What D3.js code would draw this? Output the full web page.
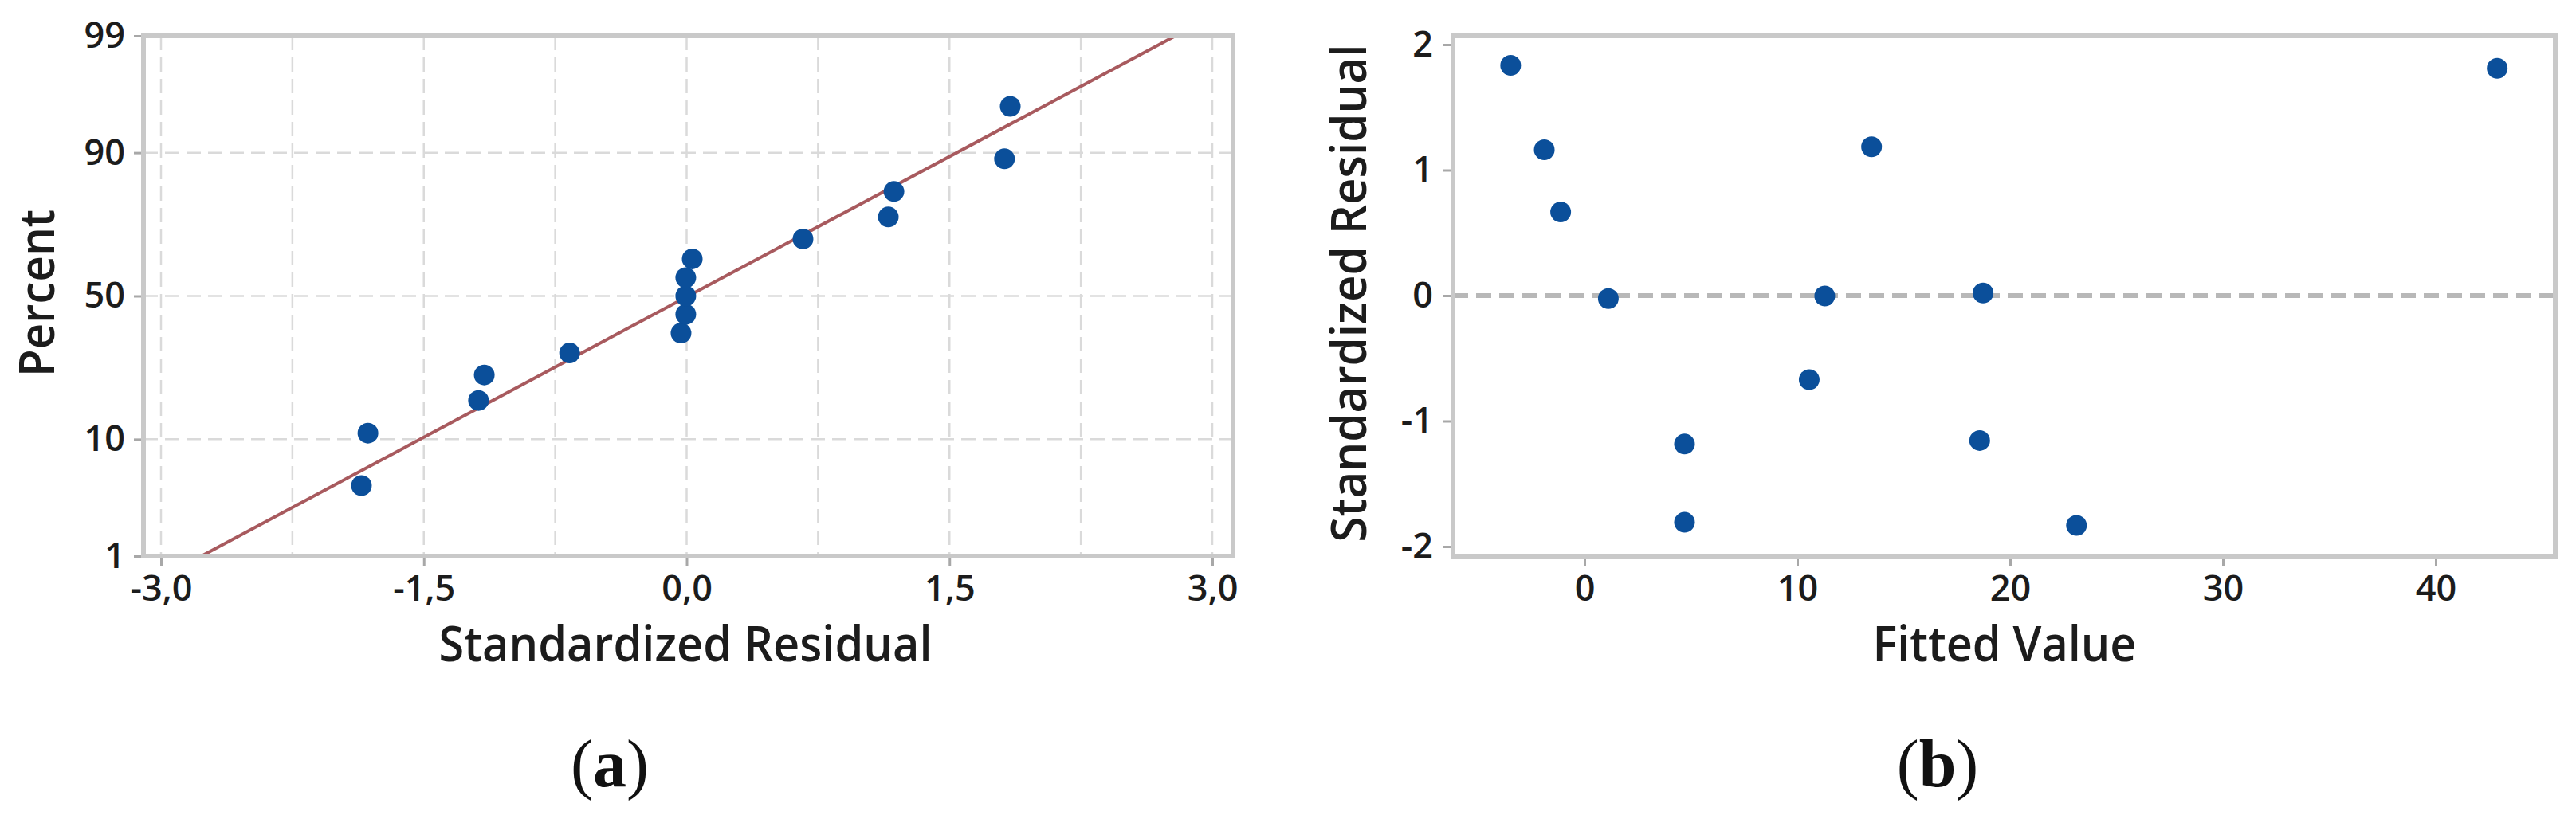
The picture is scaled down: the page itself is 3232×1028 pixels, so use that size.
<!DOCTYPE html>
<html>
<head>
<meta charset="utf-8">
<script src="https://cdn.jsdelivr.net/npm/d3@7"></script>
<style>
  body { margin: 0; background: #fff; }
  svg { display: block; }
</style>
</head>
<body>
<svg id="chart"></svg>
<script>
// panel (a): normal probability plot
const probResid = [-1.856, -1.819, -1.188, -1.155, -0.668, -0.032, -0.005, -0.005, -0.005, 0.032, 0.664, 1.151, 1.183, 1.814, 1.847];
const probPercent = [4.5, 11.0, 17.5, 24.0, 30.5, 37.0, 43.5, 50.0, 56.5, 63.0, 69.5, 76.0, 82.5, 89.0, 95.5];
const fitResid = [-2.77, 2.79];
const fitPercent = [1, 99];
const probXTicks = [-3, -1.5, 0, 1.5, 3];
const probXGrid = [-3, -2.25, -1.5, -0.75, 0, 0.75, 1.5, 2.25, 3];
const probYTicks = [1, 10, 50, 90, 99];
const probYGrid = [10, 50, 90];

// panel (b): residuals vs fits
const fitted = [-3.47, -1.89, -1.12, 1.12, 4.70, 4.70, 10.56, 11.29, 13.49, 18.73, 18.57, 23.12, 42.89];
const stdResid = [1.835, 1.162, 0.666, -0.024, -1.183, -1.807, -0.670, -0.003, 1.186, 0.021, -1.155, -1.832, 1.811];
const fitXTicks = [0, 10, 20, 30, 40];
const fitYTicks = [-2, -1, 0, 1, 2];

const W = 3232, H = 1028;
const FRAME = '#c9c9c9';
const GRID = '#dadada';
const DOT = '#0b4f9a';
const TEXT = '#1c1c1c';
const FONT = '"Open Sans", "Noto Sans", sans-serif';

// inverse normal cdf (Acklam)
function probit(p) {
    const a = [-3.969683028665376e+01, 2.209460984245205e+02, -2.759285104469687e+02, 1.383577518672690e+02, -3.066479806614716e+01, 2.506628277459239e+00];
    const b = [-5.447609879822406e+01, 1.615858368580409e+02, -1.556989798598866e+02, 6.680131188771972e+01, -1.328068155288572e+01];
    const c = [-7.784894002430293e-03, -3.223964580411365e-01, -2.400758277161838e+00, -2.549671500683589e+00, 4.374664141464968e+00, 2.938163982698783e+00];
    const d = [7.784695709041462e-03, 3.224671290700398e-01, 2.445134137142996e+00, 3.754408661907416e+00];
    const pl = 0.02425;
    if (p < pl) {
        const q = Math.sqrt(-2 * Math.log(p));
        return (((((c[0]*q+c[1])*q+c[2])*q+c[3])*q+c[4])*q+c[5]) / ((((d[0]*q+d[1])*q+d[2])*q+d[3])*q+1);
    }
    if (p > 1 - pl) {
        const q = Math.sqrt(-2 * Math.log(1 - p));
        return -(((((c[0]*q+c[1])*q+c[2])*q+c[3])*q+c[4])*q+c[5]) / ((((d[0]*q+d[1])*q+d[2])*q+d[3])*q+1);
    }
    const q = p - 0.5, r = q * q;
    return (((((a[0]*r+a[1])*r+a[2])*r+a[3])*r+a[4])*r+a[5])*q / (((((b[0]*r+b[1])*r+b[2])*r+b[3])*r+b[4])*r+1);
}

const commaFmt = d3.formatLocale({ decimal: ',', thousands: '.', grouping: [3], currency: ['', ''], minus: '-' }).format('.1f');

const svg = d3.select('#chart').attr('width', W).attr('height', H);

function styleAxis(g) {
    g.select('.domain').remove();
    g.selectAll('.tick line').attr('stroke', '#a8a8a8').attr('stroke-width', 3);
    g.selectAll('.tick text')
        .attr('fill', TEXT)
        .style('font-family', FONT)
        .style('font-weight', '600')
        .style('font-size', '45px');
}

function frame(box) {
    svg.append('rect')
        .attr('x', box.left).attr('y', box.top)
        .attr('width', box.right - box.left).attr('height', box.bottom - box.top)
        .attr('fill', 'none')
        .attr('stroke', FRAME)
        .attr('stroke-width', 6);
}

function title(text, x, y, len, rotate) {
    svg.append('text')
        .attr('transform', `translate(${x},${y})` + (rotate ? ' rotate(-90)' : ''))
        .attr('text-anchor', 'middle')
        .attr('textLength', len)
        .attr('lengthAdjust', 'spacingAndGlyphs')
        .attr('fill', TEXT)
        .style('font-family', FONT)
        .style('font-weight', '600')
        .style('font-size', '62px')
        .text(text);
}

// ---------- panel (a) ----------
const boxA = { left: 180, right: 1547, top: 45, bottom: 698 };
const xA = d3.scaleLinear().domain([-3, 3]).range([202, 1521]);
const zA = d3.scaleLinear().domain([probit(0.01), probit(0.99)]).range([boxA.bottom, boxA.top]);
const yA = p => zA(probit(p / 100));

const gridA = svg.append('g');
gridA.selectAll('.vgrid')
    .data(probXGrid)
    .enter()
    .append('line')
    .attr('x1', d => xA(d)).attr('x2', d => xA(d))
    .attr('y1', boxA.top).attr('y2', boxA.bottom)
    .attr('stroke', GRID).attr('stroke-width', 2.5)
    .attr('stroke-dasharray', '18,9');
gridA.selectAll('.hgrid')
    .data(probYGrid)
    .enter()
    .append('line')
    .attr('x1', boxA.left).attr('x2', boxA.right)
    .attr('y1', d => yA(d)).attr('y2', d => yA(d))
    .attr('stroke', GRID).attr('stroke-width', 2.5)
    .attr('stroke-dasharray', '18,9');

svg.append('g')
    .attr('transform', `translate(0,${boxA.bottom})`)
    .call(d3.axisBottom(xA).tickValues(probXTicks).tickSize(12).tickPadding(12).tickFormat(commaFmt))
    .call(styleAxis);

svg.append('g')
    .attr('transform', `translate(${boxA.left},0)`)
    .call(d3.axisLeft(zA).tickValues(probYTicks.map(p => probit(p / 100))).tickSize(12).tickPadding(11)
        .tickFormat((d, i) => probYTicks[i]))
    .call(styleAxis);

svg.append('path')
    .datum(fitResid.map((r, i) => [r, fitPercent[i]]))
    .attr('fill', 'none')
    .attr('stroke', '#a85a5e')
    .attr('stroke-width', 4)
    .attr('d', d3.line().x(d => xA(d[0])).y(d => yA(d[1])));

svg.append('g').selectAll('circle')
    .data(probResid.map((r, i) => [r, probPercent[i]]))
    .enter()
    .append('circle')
    .attr('cx', d => xA(d[0]))
    .attr('cy', d => yA(d[1]))
    .attr('r', 13)
    .attr('fill', DOT);

frame(boxA);

title('Standardized Residual', 860, 830, 619, false);
title('Percent', 68, 368, 210, true);

// ---------- panel (b) ----------
const boxB = { left: 1823, right: 3206, top: 45, bottom: 699 };
const xB = d3.scaleLinear().domain([0, 40]).range([1988, 3056]);
const yB = d3.scaleLinear().domain([-2, 2]).range([686, 56]);

svg.append('line')
    .attr('x1', boxB.left).attr('x2', boxB.right)
    .attr('y1', yB(0)).attr('y2', yB(0))
    .attr('stroke', '#b8b8b8').attr('stroke-width', 6)
    .attr('stroke-dasharray', '19,10');

svg.append('g')
    .attr('transform', `translate(0,${boxB.bottom})`)
    .call(d3.axisBottom(xB).tickValues(fitXTicks).tickSize(12).tickPadding(11).tickFormat(d3.format('d')))
    .call(styleAxis);

svg.append('g')
    .attr('transform', `translate(${boxB.left},0)`)
    .call(d3.axisLeft(yB).tickValues(fitYTicks).tickSize(12).tickPadding(13).tickFormat(d => d < 0 ? '-' + Math.abs(d) : d))
    .call(styleAxis);

svg.append('g').selectAll('circle')
    .data(fitted.map((f, i) => [f, stdResid[i]]))
    .enter()
    .append('circle')
    .attr('cx', d => xB(d[0]))
    .attr('cy', d => yB(d[1]))
    .attr('r', 13)
    .attr('fill', DOT);

frame(boxB);

title('Fitted Value', 2515, 830, 331, false);
title('Standardized Residual', 1714, 368, 625, true);

// ---------- sub-figure labels ----------
[['a', 765], ['b', 2431]].forEach(([lab, cx]) => {
    const t = svg.append('text')
        .attr('x', cx).attr('y', 987)
        .attr('text-anchor', 'middle')
        .attr('fill', '#111')
        .style('font-family', '"Liberation Serif", "DejaVu Serif", serif')
        .style('font-size', '84px');
    t.append('tspan').text('(');
    t.append('tspan').style('font-weight', 'bold').text(lab);
    t.append('tspan').text(')');
});
</script>
</body>
</html>
